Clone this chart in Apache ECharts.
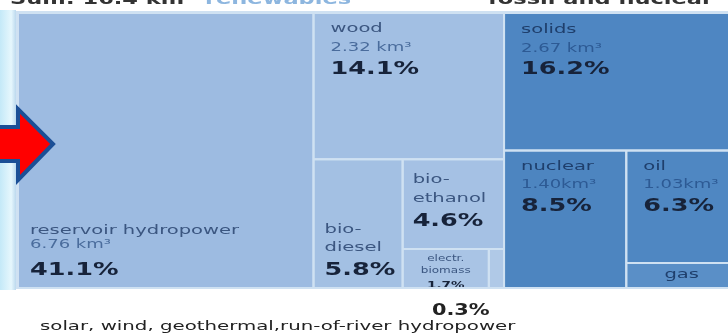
<!DOCTYPE html>
<html>
<head>
<meta charset="utf-8">
<script src="https://cdn.jsdelivr.net/npm/echarts@6/dist/echarts.min.js"></script>
<style>
  html, body { margin: 0; padding: 0; background: #fff; }
  #chart { width: 728px; height: 333px; }
</style>
</head>
<body>
<div id="chart"></div>
<script>
// shares of total (%), renewables then fossil & nuclear
const renewNames = ['reservoir hydropower', 'wood', 'bio-\ndiesel', 'bio-\nethanol', 'electr.\nbiomass', 'other']
const renewShares = [41.1, 14.1, 5.8, 4.6, 1.7, 0.3]
const renewVolumes = ['6.76 km³', '2.32 km³', '', '', '', '']
const fossilNames = ['solids', 'nuclear', 'oil', 'gas']
const fossilShares = [16.2, 8.5, 6.3, 1.4]
const fossilVolumes = ['2.67 km³', '1.40km³', '1.03km³', '']

const cellColors = {
  'reservoir hydropower': '#9dbbe1', 'wood': '#a2bfe3', 'bio-\ndiesel': '#a3c0e3',
  'bio-\nethanol': '#a5c1e4', 'electr.\nbiomass': '#a9c4e5', 'other': '#b0c9e7',
  'solids': '#4e86c2', 'nuclear': '#4d85c0', 'oil': '#4f87c2', 'gas': '#5a8fc7'
}

// where the label lines sit inside each cell (px from top / bottom)
const labelSpec = {
  'reservoir hydropower': { from: 'bottom', dx: 12, dy: [-57, -43, -17] },
  'wood': { from: 'top', dx: 17, dy: [16, 35, 57] },
  'bio-\ndiesel': { from: 'bottom', dx: 11, dy: [-58, -40, -17] },
  'bio-\nethanol': { from: 'top', dx: 10, dy: [20, 39, 62] },
  'electr.\nbiomass': { from: 'top', dx: 'center', dy: [10, 22, 37], small: true },
  'solids': { from: 'top', dx: 17, dy: [17, 36, 57] },
  'nuclear': { from: 'top', dx: 17, dy: [16, 34, 56] },
  'oil': { from: 'top', dx: 17, dy: [16, 34, 56] },
  'gas': { from: 'top', dx: 'center', dy: [12], noPct: true }
}

// slice-and-dice: first item takes a slice, direction alternates
function chain(names, shares, vols, rect, dir) {
  const out = []
  let r = { ...rect }
  let rest = shares.reduce((a, b) => a + b, 0)
  shares.forEach((s, i) => {
    const cell = { name: names[i], share: s, vol: vols[i] }
    if (i === shares.length - 1) {
      out.push({ ...cell, ...r })
      return
    }
    const f = s / rest
    if (dir === 'h') {
      const w = r.w * f
      out.push({ ...cell, x: r.x, y: r.y, w, h: r.h })
      r = { x: r.x + w, y: r.y, w: r.w - w, h: r.h }
    } else {
      const h = r.h * f
      out.push({ ...cell, x: r.x, y: r.y, w: r.w, h })
      r = { x: r.x, y: r.y + h, w: r.w, h: r.h - h }
    }
    rest -= s
    dir = dir === 'h' ? 'v' : 'h'
  })
  return out
}

const renewTotal = renewShares.reduce((a, b) => a + b, 0)
const fossilTotal = fossilShares.reduce((a, b) => a + b, 0)
const cells = [
  ...chain(renewNames, renewShares, renewVolumes, { x: 0, y: 0, w: renewTotal, h: 100 }, 'h'),
  ...chain(fossilNames, fossilShares, fossilVolumes, { x: renewTotal, y: 0, w: fossilTotal, h: 100 }, 'v')
]

const SX = 1.5
const FONT = '"DejaVu Sans", Verdana, sans-serif'

function renderItem(params, api) {
  const c = cells[params.dataIndex]
  const p0 = api.coord([c.x, c.y])
  const p1 = api.coord([c.x + c.w, c.y + c.h])
  const x = p0[0] + 1, y = p0[1] + 1
  const w = p1[0] - p0[0] - 2, h = p1[1] - p0[1] - 2
  const children = [{
    type: 'rect',
    shape: { x, y, width: w, height: h },
    style: { fill: cellColors[c.name] }
  }]
  const spec = labelSpec[c.name]
  if (spec) {
    const fossil = fossilNames.includes(c.name)
    const lines = c.name.split('\n').map((t) => ({ t, k: 'n' }))
    if (c.vol) lines.push({ t: c.vol, k: 'v' })
    if (!spec.noPct) lines.push({ t: c.share.toFixed(1) + '%', k: 'p' })
    lines.forEach((ln, i) => {
      const base = spec.from === 'top' ? p0[1] : p1[1]
      const tx = spec.dx === 'center' ? (p0[0] + p1[0]) / 2 : p0[0] + spec.dx
      let font, fill
      if (ln.k === 'p') {
        font = 'bold ' + (spec.small ? 9 : 17) + 'px ' + FONT
        fill = '#17233a'
      } else {
        font = (spec.small ? 8 : ln.k === 'v' ? 12 : 13) + 'px ' + FONT
        fill = fossil ? (ln.k === 'v' ? '#2d5a94' : '#1f3f6c') : (ln.k === 'v' ? '#4a6c9c' : '#3b5680')
      }
      children.push({
        type: 'text',
        x: tx,
        y: base + spec.dy[i],
        scaleX: SX,
        style: {
          text: ln.t, font, fill,
          align: spec.dx === 'center' ? 'center' : 'left',
          verticalAlign: 'middle'
        }
      })
    })
  }
  return {
    type: 'group',
    clipPath: { type: 'rect', shape: { x, y, width: w, height: h } },
    children
  }
}

const chart = echarts.init(document.getElementById('chart'), null, { renderer: 'canvas' })

chart.setOption({
  animation: false,
  backgroundColor: '#ffffff',
  grid: { left: 18, top: 13, width: 719, height: 275, containLabel: false, outerBoundsMode: 'none' },
  xAxis: { type: 'value', min: 0, max: 100, show: false },
  yAxis: { type: 'value', min: 0, max: 100, inverse: true, show: false },
  graphic: [
    { type: 'rect', z: 0, shape: { x: 0, y: 10, width: 16, height: 280 },
      style: { fill: new echarts.graphic.LinearGradient(0, 0, 1, 0, [
        { offset: 0, color: '#c4e9f8' }, { offset: 0.7, color: '#e6f7fd' }, { offset: 1, color: '#bcd9ee' }]) } },
    { type: 'rect', z: 0, shape: { x: 16, y: 11, width: 720, height: 278 }, style: { fill: '#cfe1f2' } },
    { type: 'text', z: 10, x: 10, y: 8, scaleX: SX,
      style: { text: 'Sum: 16.4 km³', font: 'bold 15px ' + FONT, fill: '#333', verticalAlign: 'bottom' } },
    { type: 'text', z: 10, x: 205, y: 8, scaleX: SX,
      style: { text: 'renewables', font: 'bold 15px ' + FONT, fill: '#8db6df', verticalAlign: 'bottom' } },
    { type: 'text', z: 10, x: 488, y: 8, scaleX: SX,
      style: { text: 'fossil and nuclear', font: 'bold 15px ' + FONT, fill: '#333', verticalAlign: 'bottom' } },
    { type: 'polygon', z: 100,
      shape: { points: [[-4, 127], [18, 127], [18, 109], [53, 144], [18, 180], [18, 161], [-4, 161]] },
      style: { fill: '#ff0000', stroke: '#1b4f96', lineWidth: 4, lineJoin: 'miter' } },
    { type: 'text', z: 10, x: 432, y: 311, scaleX: 1.3,
      style: { text: renewShares[5].toFixed(1) + '%', font: 'bold 16px ' + FONT, fill: '#222', verticalAlign: 'middle' } },
    { type: 'text', z: 10, x: 40, y: 327, scaleX: 1.52,
      style: { text: 'solar, wind, geothermal,run-of-river hydropower', font: '13px ' + FONT, fill: '#222', verticalAlign: 'middle' } }
  ],
  series: [{
    type: 'custom',
    coordinateSystem: 'cartesian2d',
    renderItem,
    clip: false,
    data: cells.map((c) => ({ name: c.name, value: [c.x, c.y, c.w, c.h] }))
  }]
})
</script>
</body>
</html>
